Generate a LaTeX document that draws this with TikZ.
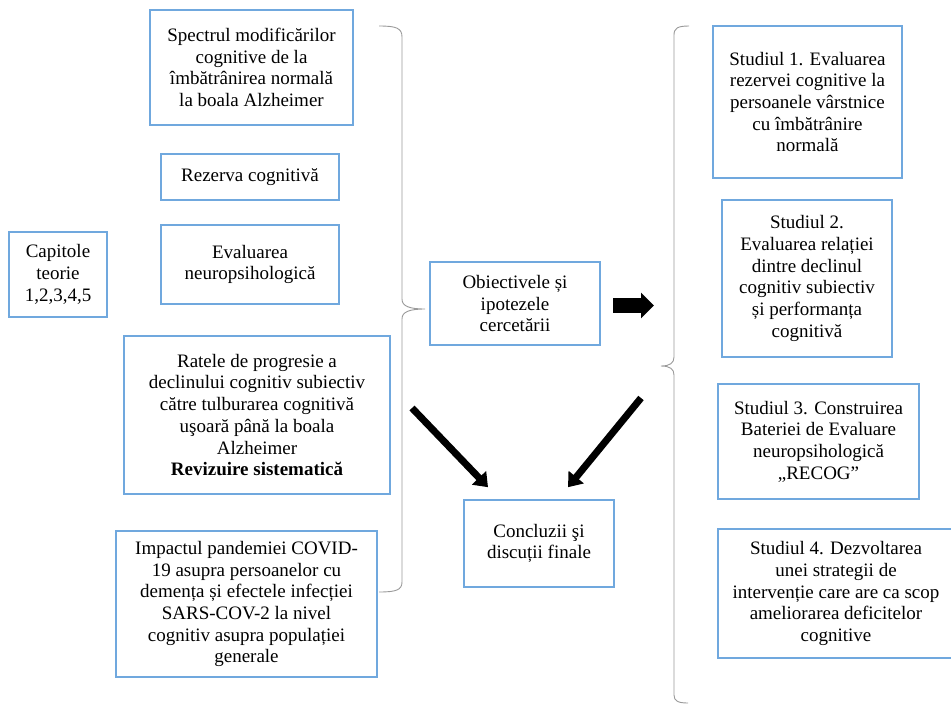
\documentclass[tikz,border=0pt]{standalone}
\usepackage{fontspec}
\setmainfont{Liberation Serif}
\usetikzlibrary{arrows.meta, calc}
\definecolor{boxblue}{RGB}{112,168,222}
\tikzset{every node/.style={font=\fontsize{19}{21.7}\selectfont},
  box/.style={draw=boxblue, line width=1.6pt, align=center, inner sep=0pt},
  brace/.style={draw=gray!80, line width=0.9pt},
  fatarrow/.style={line width=7pt, -{Triangle[length=13pt, width=19pt]}}}

\begin{document}
\begin{tikzpicture}[x=1pt, y=-1pt]
  % Bounding box fixe (taille originale)
  \path[use as bounding box] (0,0) rectangle (951,705);

  % Teoria: casetele din stanga.
  \node[box, minimum width=203pt, minimum height=115pt] (spectrul) at (251.5,67.5)
    {Spectrul modificărilor\\cognitive de la\\îmbătrânirea normală\\la boala Alzheimer};
  \node[box, minimum width=178pt, minimum height=46pt] (rezerva) at (250,177)
    {Rezerva cognitivă};
  \node[box, minimum width=178pt, minimum height=79pt] (evaluare) at (250,264.5)
    {Evaluarea\\neuropsihologică};
  \node[box, minimum width=98pt, minimum height=85pt] (capitole) at (58,274.5)
    {Capitole\\teorie\\1,2,3,4,5};
  \node[box, minimum width=266pt, minimum height=158pt] (ratele) at (257,415)
    {Ratele de progresie a\\declinului cognitiv subiectiv\\către tulburarea cognitivă\\uşoară până la boala\\Alzheimer\\\textbf{Revizuire sistematică}};
  \node[box, minimum width=261pt, minimum height=146pt] (impact) at (246.5,604)
    {Impactul pandemiei COVID-\\19 asupra persoanelor cu\\demența și efectele infecției\\SARS-COV-2 la nivel\\cognitiv asupra populației\\generale};

  % Centru.
  \node[box, minimum width=170pt, minimum height=83pt] (obiective) at (515,303.5)
    {Obiectivele și\\ipotezele\\cercetării};
  \node[box, minimum width=150pt, minimum height=87pt] (concluzii) at (539,543.5)
    {Concluzii şi\\discuții finale};

  % Studiile din dreapta.
  \node[box, minimum width=189pt, minimum height=152pt] (studiu1) at (807.5,102)
    {Studiul 1. Evaluarea\\rezervei cognitive la\\persoanele vârstnice\\cu îmbătrânire\\normală};
  \node[box, minimum width=170pt, minimum height=157pt] (studiu2) at (807,278.5)
    {Studiul 2.\\Evaluarea relației\\dintre declinul\\cognitiv subiectiv\\și performanța\\cognitivă};
  \node[box, minimum width=201pt, minimum height=115pt] (studiu3) at (818.5,441.5)
    {Studiul 3. Construirea\\Bateriei de Evaluare\\neuropsihologică\\„RECOG”};
  \node[box, minimum width=236pt, minimum height=129pt] (studiu4) at (836,593.5)
    {Studiul 4. Dezvoltarea\\unei strategii de\\intervenție care are ca scop\\ameliorarea deficitelor\\cognitive};

  % Acolade.
  \coordinate (bLtop) at (379,26);
  \coordinate (bLtip) at (425,309);
  \coordinate (bLbot) at (379,592);
  \draw[brace] (bLtop) .. controls (396,26) and (402,28) .. (402,37) -- (402,299)
    .. controls (402,306) and (409,309) .. (bLtip)
    .. controls (409,309) and (402,312) .. (402,319) -- (402,582)
    .. controls (402,590) and (396,592) .. (bLbot);
  \coordinate (bRtop) at (689,26);
  \coordinate (bRtip) at (661,366);
  \coordinate (bRbot) at (688,703);
  \draw[brace] (bRtop) .. controls (678,26) and (674,28) .. (674,35) -- (674,357)
    .. controls (674,363) and (670,366) .. (bRtip)
    .. controls (670,366) and (674,369) .. (674,375) -- (674,695)
    .. controls (674,701) and (678,703) .. (bRbot);

  % Sageti.
  \coordinate (arrRs) at (613,305.5);
  \coordinate (arrRe) at (654,305.5);
  \draw[line width=15pt, -{Triangle[length=13pt, width=25pt]}] (arrRs) -- (arrRe);
  \coordinate (arrL) at (412,408);
  \coordinate (arrR) at (641,398);
  \draw[fatarrow] (arrL) -- ([xshift=-51pt, yshift=12pt]concluzii.north);
  \draw[fatarrow] (arrR) -- ([xshift=29pt, yshift=12pt]concluzii.north);
\end{tikzpicture}
\end{document}
